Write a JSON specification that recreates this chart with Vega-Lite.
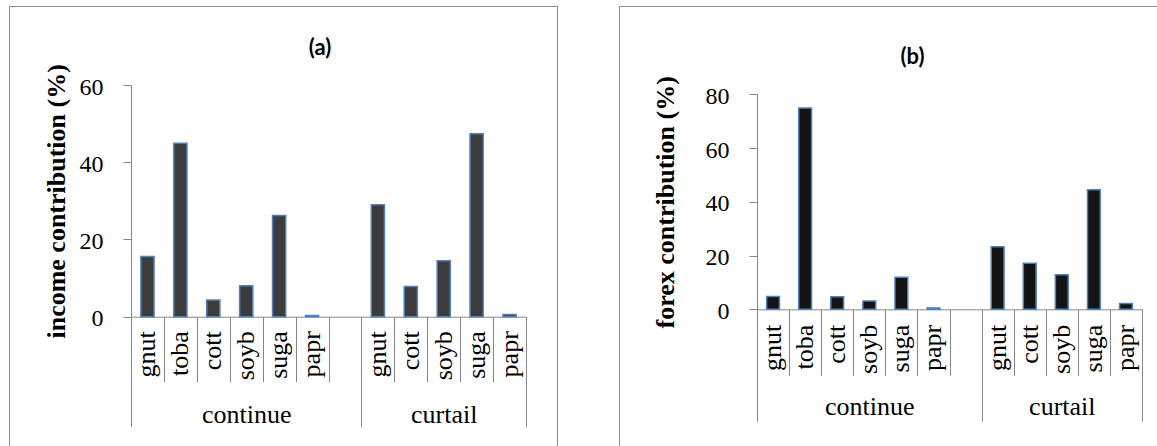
{
  "$schema": "https://vega.github.io/schema/vega-lite/v6.json",
  "padding": {"left": 8, "top": 5, "right": 0, "bottom": 0},
  "background": "white",
  "spacing": 60,
  "datasets": {
    "income": [
      {"group": "continue", "crop": "gnut", "key": "continue/gnut", "value": 15.6},
      {"group": "continue", "crop": "toba", "key": "continue/toba", "value": 44.9},
      {"group": "continue", "crop": "cott", "key": "continue/cott", "value": 4.3},
      {"group": "continue", "crop": "soyb", "key": "continue/soyb", "value": 8.0},
      {"group": "continue", "crop": "suga", "key": "continue/suga", "value": 26.2},
      {"group": "continue", "crop": "papr", "key": "continue/papr", "value": 0.3},
      {"group": "curtail", "crop": "gnut", "key": "curtail/gnut", "value": 29.0},
      {"group": "curtail", "crop": "cott", "key": "curtail/cott", "value": 7.8},
      {"group": "curtail", "crop": "soyb", "key": "curtail/soyb", "value": 14.5},
      {"group": "curtail", "crop": "suga", "key": "curtail/suga", "value": 47.4},
      {"group": "curtail", "crop": "papr", "key": "curtail/papr", "value": 0.6}
    ],
    "forex": [
      {"group": "continue", "crop": "gnut", "key": "continue/gnut", "value": 4.8},
      {"group": "continue", "crop": "toba", "key": "continue/toba", "value": 74.9},
      {"group": "continue", "crop": "cott", "key": "continue/cott", "value": 4.7},
      {"group": "continue", "crop": "soyb", "key": "continue/soyb", "value": 3.1},
      {"group": "continue", "crop": "suga", "key": "continue/suga", "value": 11.9},
      {"group": "continue", "crop": "papr", "key": "continue/papr", "value": 0.5},
      {"group": "curtail", "crop": "gnut", "key": "curtail/gnut", "value": 23.3},
      {"group": "curtail", "crop": "cott", "key": "curtail/cott", "value": 17.1},
      {"group": "curtail", "crop": "soyb", "key": "curtail/soyb", "value": 12.9},
      {"group": "curtail", "crop": "suga", "key": "curtail/suga", "value": 44.5},
      {"group": "curtail", "crop": "papr", "key": "curtail/papr", "value": 2.2}
    ]
  },
  "hconcat": [
    {
      "width": 548,
      "height": 441,
      "title": {"text": "(a)", "font": "Lato", "fontSize": 22, "fontWeight": "bold", "color": "black", "anchor": "middle", "frame": "group", "orient": "top", "offset": -54, "dx": 37, "baseline": "top"},
      "data": {"name": "income"},
      "layer": [
        {
          "mark": {"type": "bar", "fill": "#3c3c3c", "stroke": "#4f81bd", "strokeWidth": 1.5},
          "encoding": {
            "x": {
              "field": "key", "type": "nominal", "sort": null,
              "scale": {"domain": ["continue/gnut", "continue/toba", "continue/cott", "continue/soyb", "continue/suga", "continue/papr", "continue/", "curtail/gnut", "curtail/cott", "curtail/soyb", "curtail/suga", "curtail/papr"], "range": [122, 517], "paddingInner": 0.6, "paddingOuter": 0.3},
              "axis": {"orient": "bottom", "offset": -130.3, "ticks": false, "domain": false, "labelExpr": "split(datum.value, '/')[1]", "labelAngle": 270, "labelAlign": "right", "labelBaseline": "middle", "labelPadding": 14, "labelFont": "Liberation Serif", "labelFontSize": 26, "labelLimit": 0, "labelOverlap": false, "labelColor": "black", "title": null, "grid": false}
            },
            "y": {
              "field": "value", "type": "quantitative",
              "scale": {"domain": [0, 60], "range": [310.7, 79], "nice": false},
              "axis": {"orient": "left", "offset": -122, "values": [0, 20, 40, 60], "tickSize": 8, "labelPadding": 20, "labelOffset": 2, "labelFont": "Liberation Serif", "labelFontSize": 24, "labelColor": "black", "title": "income contribution (%)", "titleFont": "Liberation Serif", "titleFontSize": 26, "titleFontWeight": "bold", "titleColor": "black", "titlePadding": 10, "grid": false}
            }
          }
        },
        {
          "mark": {"type": "rule", "opacity": 0},
          "encoding": {
            "x": {"datum": 0, "type": "quantitative", "scale": {"domain": [0, 12], "range": [122, 517], "nice": false, "zero": false},
              "axis": {"orient": "bottom", "offset": -130.3, "values": [1, 2, 3, 4, 5, 6, 8, 9, 10, 11], "tickSize": 65, "labels": false, "domain": true, "title": null, "grid": false}}
          }
        },
        {
          "mark": {"type": "rule", "opacity": 0},
          "encoding": {
            "x": {"datum": 0, "type": "quantitative", "scale": {"domain": [0, 12], "range": [122, 517], "nice": false, "zero": false},
              "axis": {"orient": "bottom", "offset": -130.3, "values": [0, 3.5, 7, 9.5, 12], "tickSize": 110, "tickOpacity": {"condition": {"test": "datum.value % 1 != 0", "value": 0}, "value": 1}, "domain": false, "labelExpr": "datum.value == 3.5 ? 'continue' : datum.value == 9.5 ? 'curtail' : ''", "labelAngle": 0, "labelAlign": "center", "labelBaseline": "alphabetic", "labelPadding": -4.7, "labelFont": "Liberation Serif", "labelFontSize": 26, "labelColor": "black", "labelOverlap": false, "labelFlush": false, "labelBound": false, "title": null, "grid": false}}
          }
        }
      ],
      "resolve": {"scale": {"x": "independent"}, "axis": {"x": "independent"}}
    },
    {
      "width": 541,
      "height": 441,
      "title": {"text": "(b)", "font": "Lato", "fontSize": 22, "fontWeight": "bold", "color": "black", "anchor": "middle", "frame": "group", "orient": "top", "offset": -63, "dx": 23, "baseline": "top"},
      "data": {"name": "forex"},
      "layer": [
        {
          "mark": {"type": "bar", "fill": "#141414", "stroke": "#4f81bd", "strokeWidth": 1.5},
          "encoding": {
            "x": {
              "field": "key", "type": "nominal", "sort": null,
              "scale": {"domain": ["continue/gnut", "continue/toba", "continue/cott", "continue/soyb", "continue/suga", "continue/papr", "continue/", "curtail/gnut", "curtail/cott", "curtail/soyb", "curtail/suga", "curtail/papr"], "range": [138, 523], "paddingInner": 0.6, "paddingOuter": 0.3},
              "axis": {"orient": "bottom", "offset": -137.7, "ticks": false, "domain": false, "labelExpr": "split(datum.value, '/')[1]", "labelAngle": 270, "labelAlign": "right", "labelBaseline": "middle", "labelPadding": 15, "labelFont": "Liberation Serif", "labelFontSize": 26, "labelLimit": 0, "labelOverlap": false, "labelColor": "black", "title": null, "grid": false}
            },
            "y": {
              "field": "value", "type": "quantitative",
              "scale": {"domain": [0, 80], "range": [303.3, 88.3], "nice": false},
              "axis": {"orient": "left", "offset": -138, "values": [0, 20, 40, 60, 80], "tickSize": 8, "labelPadding": 20, "labelOffset": 2, "labelFont": "Liberation Serif", "labelFontSize": 24, "labelColor": "black", "title": "forex contribution (%)", "titleFont": "Liberation Serif", "titleFontSize": 26, "titleFontWeight": "bold", "titleColor": "black", "titlePadding": 27, "grid": false}
            }
          }
        },
        {
          "mark": {"type": "rule", "opacity": 0},
          "encoding": {
            "x": {"datum": 0, "type": "quantitative", "scale": {"domain": [0, 12], "range": [138, 523], "nice": false, "zero": false},
              "axis": {"orient": "bottom", "offset": -137.7, "values": [1, 2, 3, 4, 5, 6, 8, 9, 10, 11], "tickSize": 66, "labels": false, "domain": true, "title": null, "grid": false}}
          }
        },
        {
          "mark": {"type": "rule", "opacity": 0},
          "encoding": {
            "x": {"datum": 0, "type": "quantitative", "scale": {"domain": [0, 12], "range": [138, 523], "nice": false, "zero": false},
              "axis": {"orient": "bottom", "offset": -137.7, "values": [0, 3.5, 7, 9.5, 12], "tickSize": 112, "tickOpacity": {"condition": {"test": "datum.value % 1 != 0", "value": 0}, "value": 1}, "domain": false, "labelExpr": "datum.value == 3.5 ? 'continue' : datum.value == 9.5 ? 'curtail' : ''", "labelAngle": 0, "labelAlign": "center", "labelBaseline": "alphabetic", "labelPadding": -7.3, "labelFont": "Liberation Serif", "labelFontSize": 26, "labelColor": "black", "labelOverlap": false, "labelFlush": false, "labelBound": false, "title": null, "grid": false}}
          }
        }
      ],
      "resolve": {"scale": {"x": "independent"}, "axis": {"x": "independent"}}
    }
  ],
  "config": {
    "view": {"stroke": "#8c8c8c", "strokeWidth": 1},
    "axis": {"grid": false, "domainColor": "#878787", "tickColor": "#878787", "domainWidth": 1, "tickWidth": 1}
  }
}
